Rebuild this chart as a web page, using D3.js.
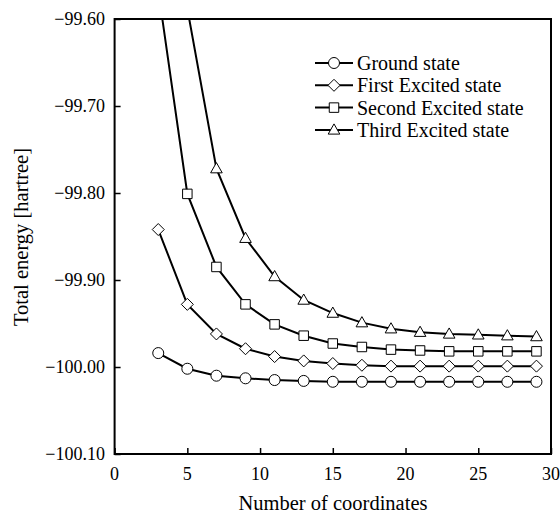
<!DOCTYPE html>
<html>
<head>
<meta charset="utf-8">
<script src="https://cdn.jsdelivr.net/npm/d3@7"></script>
<style>
  body { margin: 0; background: #fff; }
</style>
</head>
<body>
<script>
// number of coordinates
var coords = [3, 5, 7, 9, 11, 13, 15, 17, 19, 21, 23, 25, 27, 29];

// total energy per state (hartree)
var groundState = [-99.984, -100.002, -100.010, -100.013, -100.015, -100.016, -100.017,
                   -100.017, -100.017, -100.017, -100.017, -100.017, -100.017, -100.017];
var firstExcited = [-99.842, -99.928, -99.962, -99.979, -99.988, -99.993, -99.996,
                    -99.998, -99.999, -99.999, -99.999, -99.999, -99.999, -99.999];
var secondExcited = [-99.567, -99.801, -99.885, -99.928, -99.951, -99.964, -99.973,
                     -99.977, -99.980, -99.981, -99.982, -99.982, -99.982, -99.982];
// third excited state starts at 5 coordinates (value at 3 is off the chart)
var thirdCoords = [5, 7, 9, 11, 13, 15, 17, 19, 21, 23, 25, 27, 29];
var thirdExcited = [-99.588, -99.772, -99.852, -99.896, -99.923, -99.938, -99.949,
                    -99.956, -99.960, -99.962, -99.963, -99.964, -99.965];

var seriesNames = ["Ground state", "First Excited state", "Second Excited state", "Third Excited state"];
var seriesSymbols = ["circle", "diamond", "square", "triangle"];

var xTicks = [0, 5, 10, 15, 20, 25, 30];
var yTicks = [-99.60, -99.70, -99.80, -99.90, -100.00, -100.10];

// no letter-spacing: it makes the renderer fall back to a sans font
var FONT = "\"Liberation Serif\"";

var W = 560, H = 513;
var plot = {left: 114.6, right: 551, top: 19, bottom: 454};

var svg = d3.select("body").append("svg")
    .attr("width", W)
    .attr("height", H)
    .style("font-family", FONT);

var x = d3.scaleLinear().domain([0, 30]).range([plot.left, plot.right]);
var y = d3.scaleLinear().domain([-100.10, -99.60]).range([plot.bottom, plot.top]);

// clip to the plotting area
svg.append("clipPath").attr("id", "clip")
  .append("rect")
    .attr("x", plot.left).attr("y", plot.top)
    .attr("width", plot.right - plot.left)
    .attr("height", plot.bottom - plot.top);

var series = [
  {name: seriesNames[0], sym: seriesSymbols[0], xs: coords, ys: groundState},
  {name: seriesNames[1], sym: seriesSymbols[1], xs: coords, ys: firstExcited},
  {name: seriesNames[2], sym: seriesSymbols[2], xs: coords, ys: secondExcited},
  {name: seriesNames[3], sym: seriesSymbols[3], xs: thirdCoords, ys: thirdExcited}
];

function symbolPath(sym) {
  if (sym == "circle") return d3.symbol(d3.symbolCircle, 95)();
  if (sym == "square") return d3.symbol(d3.symbolSquare, 90)();
  if (sym == "diamond") return "M0,-6L6,0L0,6L-6,0Z";
  return "M0,-6L5.8,4.2L-5.8,4.2Z";
}

var line = d3.line()
    .x(function(d) { return x(d[0]); })
    .y(function(d) { return y(d[1]); });

var g = svg.append("g").attr("clip-path", "url(#clip)");

series.forEach(function(s) {
  var pts = s.xs.map(function(v, i) { return [v, s.ys[i]]; });
  g.append("path")
    .attr("d", line(pts))
    .attr("fill", "none")
    .attr("stroke", "#000")
    .attr("stroke-width", 2);
  g.selectAll(null)
    .data(pts)
    .enter().append("path")
      .attr("d", symbolPath(s.sym))
      .attr("transform", function(d) { return "translate(" + x(d[0]) + "," + y(d[1]) + ")"; })
      .attr("fill", "#fff")
      .attr("stroke", "#000")
      .attr("stroke-width", 1);
});

// axes (ticks point inward)
var xAxis = svg.append("g")
    .attr("transform", "translate(0," + plot.bottom + ")")
    .call(d3.axisTop(x).tickValues(xTicks).tickSize(6).tickFormat(""));
xAxis.select(".domain").remove();
xAxis.selectAll("line").attr("stroke-width", 1.5);

svg.selectAll(".xlab")
  .data(xTicks)
  .enter().append("text")
    .attr("class", "xlab")
    .attr("x", function(d) { return x(d); })
    .attr("y", 480)
    .attr("text-anchor", "middle")
    .style("font-family", FONT)
    .attr("font-size", 18)
    .text(function(d) { return d; });

var yAxis = svg.append("g")
    .attr("transform", "translate(" + plot.left + ",0)")
    .call(d3.axisRight(y).tickValues(yTicks).tickSize(6).tickFormat(""));
yAxis.select(".domain").remove();
yAxis.selectAll("line").attr("stroke-width", 1.5);

svg.selectAll(".ylab")
  .data(yTicks)
  .enter().append("text")
    .attr("class", "ylab")
    .attr("x", 105)
    .attr("y", function(d) { return y(d); })
    .attr("dy", "0.35em")
    .attr("text-anchor", "end")
    .style("font-family", FONT)
    .attr("font-size", 18)
    .text(function(d) { return d3.format(".2f")(d); });

// frame
svg.append("rect")
    .attr("x", plot.left).attr("y", plot.top)
    .attr("width", plot.right - plot.left)
    .attr("height", plot.bottom - plot.top)
    .attr("fill", "none")
    .attr("stroke", "#000")
    .attr("stroke-width", 2);

// axis titles
svg.append("text")
    .attr("x", 333)
    .attr("y", 510)
    .attr("text-anchor", "middle")
    .style("font-family", FONT)
    .attr("font-size", 20.5)
    .text("Number of coordinates");

svg.append("text")
    .attr("transform", "translate(28,237) rotate(-90)")
    .attr("text-anchor", "middle")
    .style("font-family", FONT)
    .attr("font-size", 20.5)
    .text("Total energy [hartree]");

// legend
var legend = svg.append("g");
series.forEach(function(s, i) {
  var ly = 63 + i * 22.3;
  legend.append("line")
    .attr("x1", 315).attr("x2", 353)
    .attr("y1", ly).attr("y2", ly)
    .attr("stroke", "#000")
    .attr("stroke-width", 2);
  legend.append("path")
    .attr("d", symbolPath(s.sym))
    .attr("transform", "translate(334," + ly + ")")
    .attr("fill", "#fff")
    .attr("stroke", "#000")
    .attr("stroke-width", 1);
  legend.append("text")
    .attr("x", 357)
    .attr("y", ly)
    .attr("dy", "0.35em")
    .style("font-family", FONT)
    .attr("font-size", 20)
    .text(s.name);
});
</script>
</body>
</html>
